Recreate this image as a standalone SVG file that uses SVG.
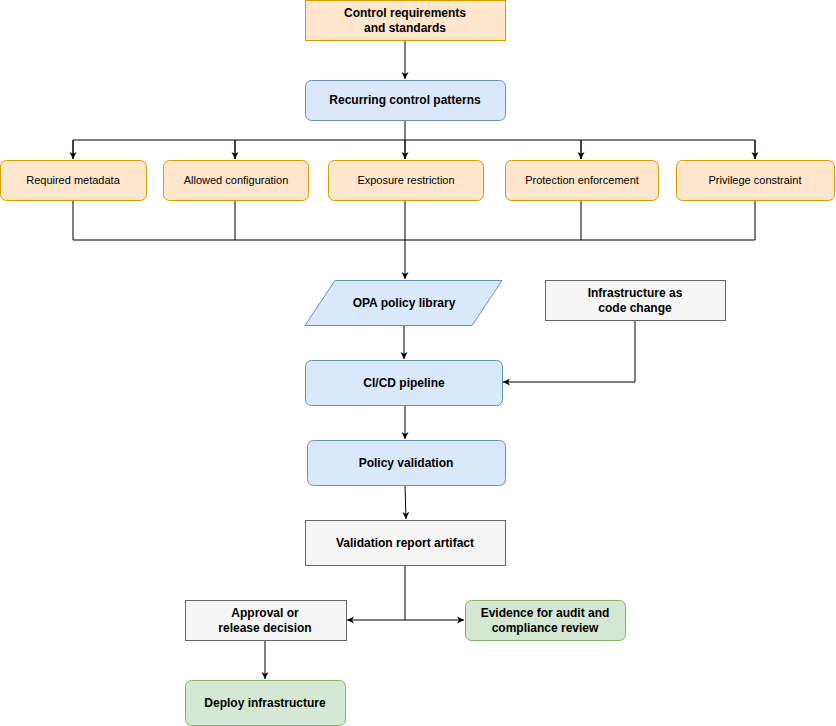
<svg xmlns="http://www.w3.org/2000/svg" width="836" height="726" viewBox="0 0 836 726">
<defs>
<marker id="a" markerWidth="8" markerHeight="8" refX="7" refY="4" orient="auto" markerUnits="userSpaceOnUse"><path d="M0,0.5 L7,4 L0,7.5 L2,4 Z" fill="#000"/></marker>
<style>
.o{fill:#ffe6cc;stroke:#d79b00}
.b{fill:#dae8fc;stroke:#6c8ebf}
.g{fill:#f5f5f5;stroke:#666}
.gr{fill:#d5e8d4;stroke:#82b366}
text{font-family:"Liberation Sans",Arial,sans-serif;font-size:12px;font-weight:bold;text-anchor:middle;fill:#000}
.n{font-size:11px;font-weight:normal}
.c{fill:none;stroke:#000;stroke-width:1}
</style>
</defs>
<rect width="836" height="726" fill="#fff"/>
<g id="connectors">
<path class="c" d="M405,40 V79" marker-end="url(#a)"/>
<path class="c" d="M405,120 V140 M73,159 V140 H755 V159 M235,140 V159 M581,140 V159 M405,140 V159" />
<path class="c" d="M73,140 V159" marker-end="url(#a)"/>
<path class="c" d="M235,140 V159" marker-end="url(#a)"/>
<path class="c" d="M405,140 V159" marker-end="url(#a)"/>
<path class="c" d="M581,140 V159" marker-end="url(#a)"/>
<path class="c" d="M755,140 V159" marker-end="url(#a)"/>
<path class="c" d="M73,200 V240 H755 V200 M235,200 V240 M581,200 V240 M405,200 V240"/>
<path class="c" d="M405,240 V279" marker-end="url(#a)"/>
<path class="c" d="M404,325 V359" marker-end="url(#a)"/>
<path class="c" d="M635,320 V382 H503" marker-end="url(#a)"/>
<path class="c" d="M405,405 V439" marker-end="url(#a)"/>
<path class="c" d="M405,485 L406,519" marker-end="url(#a)"/>
<path class="c" d="M405,565 V620 H347" marker-end="url(#a)"/>
<path class="c" d="M405,620 H464" marker-end="url(#a)"/>
<path class="c" d="M265,640 V679" marker-end="url(#a)"/>
</g>
<g id="n1"><rect class="o" x="305.5" y="0.5" width="200" height="40"/><text x="405" y="17">Control requirements</text><text x="405" y="32">and standards</text></g>
<g id="n2"><rect class="b" x="305.5" y="80.5" width="200" height="40" rx="6"/><text x="405" y="104">Recurring control patterns</text></g>
<g id="p1"><rect class="o" x="0.5" y="160.5" width="146" height="40" rx="6"/><text class="n" x="73" y="184">Required metadata</text></g>
<g id="p2"><rect class="o" x="163.5" y="160.5" width="145" height="40" rx="6"/><text class="n" x="236" y="184">Allowed configuration</text></g>
<g id="p3"><rect class="o" x="328.5" y="160.5" width="155" height="40" rx="6"/><text class="n" x="406" y="184">Exposure restriction</text></g>
<g id="p4"><rect class="o" x="505.5" y="160.5" width="153" height="40" rx="6"/><text class="n" x="582" y="184">Protection enforcement</text></g>
<g id="p5"><rect class="o" x="676.5" y="160.5" width="158" height="40" rx="6"/><text class="n" x="755" y="184">Privilege constraint</text></g>
<g id="opa"><polygon class="b" points="335,280.5 502,280.5 472,325.5 305,325.5"/><text x="404" y="307">OPA policy library</text></g>
<g id="iac"><rect class="g" x="545.5" y="280.5" width="180" height="40"/><text x="635" y="297">Infrastructure as</text><text x="635" y="312">code change</text></g>
<g id="ci"><rect class="b" x="305.5" y="360.5" width="197" height="45" rx="6"/><text x="404" y="387">CI/CD pipeline</text></g>
<g id="pv"><rect class="b" x="307.5" y="440.5" width="198" height="45" rx="6"/><text x="406" y="467">Policy validation</text></g>
<g id="vr"><rect class="g" x="305.5" y="520.5" width="200" height="45"/><text x="405" y="547">Validation report artifact</text></g>
<g id="ap"><rect class="g" x="185.5" y="600.5" width="161" height="40"/><text x="265" y="617">Approval or</text><text x="265" y="632">release decision</text></g>
<g id="ev"><rect class="gr" x="465.5" y="600.5" width="160" height="40" rx="6"/><text x="545" y="617">Evidence for audit and</text><text x="545" y="632">compliance review</text></g>
<g id="dp"><rect class="gr" x="185.5" y="680.5" width="160" height="45" rx="6"/><text x="265" y="707">Deploy infrastructure</text></g>
</svg>
